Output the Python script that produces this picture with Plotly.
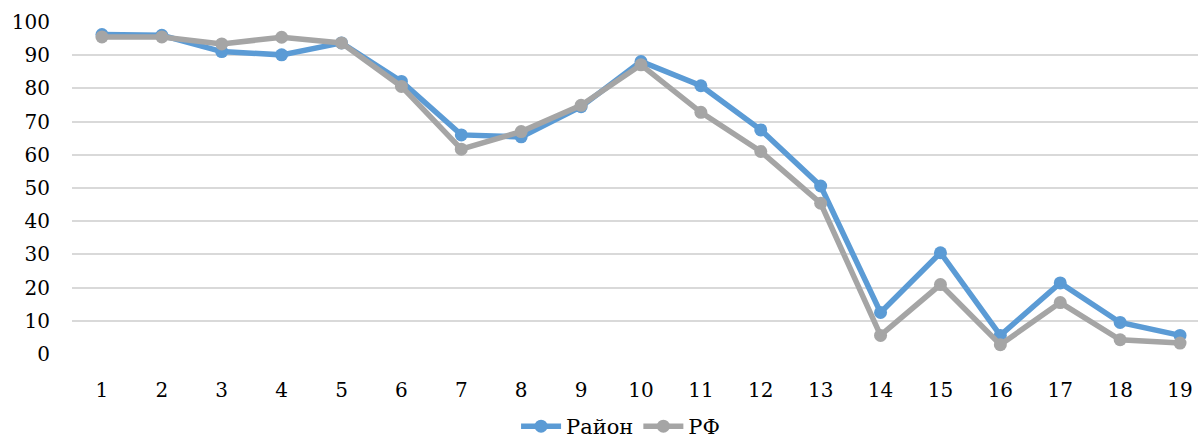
import plotly.graph_objects as go

categories = list(range(1, 20))
rayon = [96.2, 96.0, 91.1, 90.1, 93.7, 82.1, 66.0, 65.4, 74.5, 88.1, 80.8, 67.5, 50.6, 12.5, 30.5, 5.6, 21.4, 9.5, 5.6]
rf = [95.5, 95.5, 93.4, 95.4, 93.7, 80.6, 61.7, 67.0, 74.9, 87.1, 72.8, 61.0, 45.4, 5.6, 20.9, 2.8, 15.5, 4.3, 3.3]
y_ticks = list(range(0, 101, 10))

FONT = "DejaVu Serif"

fig = go.Figure()
fig.add_trace(go.Scatter(x=categories, y=rayon, name="Район", mode="lines+markers",
                         line=dict(color="#5B9BD5", width=5.5),
                         marker=dict(color="#5B9BD5", size=13)))
fig.add_trace(go.Scatter(x=categories, y=rf, name="РФ", mode="lines+markers",
                         line=dict(color="#A5A5A5", width=5.5),
                         marker=dict(color="#A5A5A5", size=13)))

fig.update_layout(
    width=1198, height=447,
    margin=dict(l=72, r=0, t=21, b=92, autoexpand=False),
    paper_bgcolor="white", plot_bgcolor="white",
    font=dict(family=FONT, size=20, color="#000000"),
    showlegend=True,
    legend=dict(orientation="h", xref="container", x=0.518, xanchor="center",
                yref="container", y=-0.012, yanchor="bottom",
                font=dict(family=FONT, size=21), itemwidth=40,
                tracegroupgap=0, borderwidth=0),
    xaxis=dict(range=[0.5, 19.3], tickvals=categories, ticktext=[str(c) for c in categories],
               showgrid=False, zeroline=False, showline=False, ticks="",
               ticklabelstandoff=21, automargin=False),
    yaxis=dict(range=[-0.3, 100.3], tickvals=y_ticks, showgrid=True, gridcolor="#D9D9D9",
               gridwidth=2, zeroline=False, showline=False, ticks="",
               ticklabelstandoff=21, automargin=False),
)

fig.write_html("out.html")
